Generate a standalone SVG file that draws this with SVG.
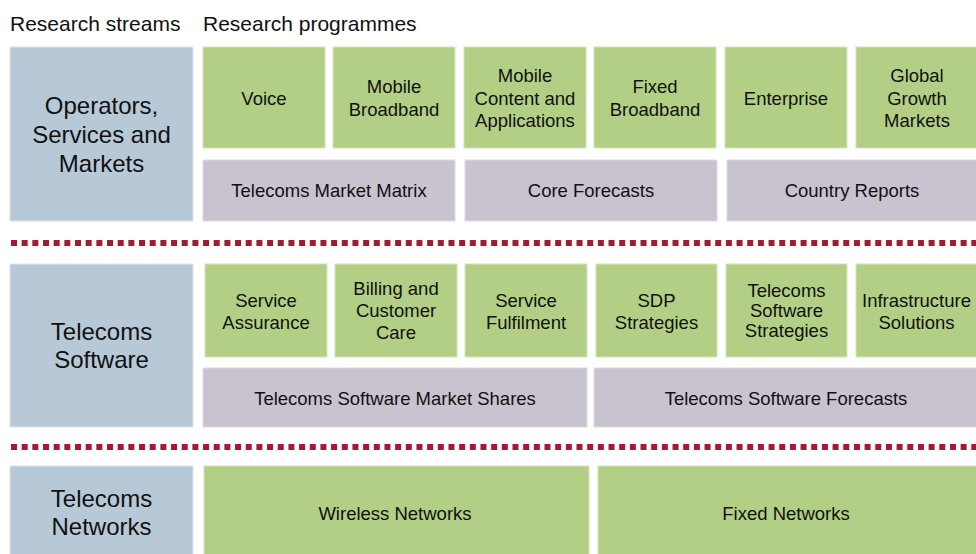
<svg xmlns="http://www.w3.org/2000/svg" width="976" height="554" viewBox="0 0 976 554">
  <style>
    text { font-family: "Liberation Sans", Arial, sans-serif; fill: #111; text-anchor: middle; }
    .hdr { font-size: 21px; text-anchor: start; }
    .stream { fill: #B7C9D7; stroke: #DCE4EB; stroke-width: 1; }
    .prog { fill: #B3CF86; stroke: #D3E3B8; stroke-width: 1; }
    .prod { fill: #C8C3CF; stroke: #DEDAE2; stroke-width: 1; }
    .big { font-size: 24px; }
    .sm { font-size: 18.5px; }
    .sep { stroke: #A51A32; stroke-width: 6; stroke-dasharray: 6 4.67; fill: none; }
  </style>
  <rect width="976" height="554" fill="#ffffff"/>

  <text class="hdr" x="10" y="31">Research streams</text>
  <text class="hdr" x="203" y="31">Research programmes</text>

  <g id="separators">
    <line class="sep" x1="11" y1="243" x2="976" y2="243"/>
    <line class="sep" x1="11" y1="447" x2="976" y2="447"/>
  </g>

  <!-- Stream 1 -->
  <g id="stream-operators">
    <rect class="stream" x="10" y="47" width="183" height="174"/>
    <text class="big" x="101.5" y="114">Operators,</text>
    <text class="big" x="101.5" y="143">Services and</text>
    <text class="big" x="101.5" y="172">Markets</text>
  </g>
  <g id="prog-voice">
    <rect class="prog" x="203" y="47" width="122" height="101"/>
    <text class="sm" x="264" y="104.5">Voice</text>
  </g>
  <g id="prog-mobile-broadband">
    <rect class="prog" x="333" y="47" width="122" height="101"/>
    <text class="sm" x="394" y="93">Mobile</text>
    <text class="sm" x="394" y="116">Broadband</text>
  </g>
  <g id="prog-mobile-content">
    <rect class="prog" x="464" y="47" width="122" height="101"/>
    <text class="sm" x="525" y="82">Mobile</text>
    <text class="sm" x="525" y="104.5">Content and</text>
    <text class="sm" x="525" y="127">Applications</text>
  </g>
  <g id="prog-fixed-broadband">
    <rect class="prog" x="594" y="47" width="122" height="101"/>
    <text class="sm" x="655" y="93">Fixed</text>
    <text class="sm" x="655" y="116">Broadband</text>
  </g>
  <g id="prog-enterprise">
    <rect class="prog" x="725" y="47" width="122" height="101"/>
    <text class="sm" x="786" y="104.5">Enterprise</text>
  </g>
  <g id="prog-global-growth">
    <rect class="prog" x="856" y="47" width="122" height="101"/>
    <text class="sm" x="917" y="82">Global</text>
    <text class="sm" x="917" y="104.5">Growth</text>
    <text class="sm" x="917" y="127">Markets</text>
  </g>
  <g id="prod-market-matrix">
    <rect class="prod" x="203" y="160" width="252" height="61"/>
    <text class="sm" x="329" y="197">Telecoms Market Matrix</text>
  </g>
  <g id="prod-core-forecasts">
    <rect class="prod" x="465" y="160" width="252" height="61"/>
    <text class="sm" x="591" y="197">Core Forecasts</text>
  </g>
  <g id="prod-country-reports">
    <rect class="prod" x="727" y="160" width="251" height="61"/>
    <text class="sm" x="852" y="197">Country Reports</text>
  </g>

  <!-- Stream 2 -->
  <g id="stream-software">
    <rect class="stream" x="10" y="264" width="183" height="163"/>
    <text class="big" x="101.5" y="340">Telecoms</text>
    <text class="big" x="101.5" y="368">Software</text>
  </g>
  <g id="prog-service-assurance">
    <rect class="prog" x="205" y="264" width="122" height="93"/>
    <text class="sm" x="266" y="306.5">Service</text>
    <text class="sm" x="266" y="328.5">Assurance</text>
  </g>
  <g id="prog-billing">
    <rect class="prog" x="335" y="264" width="122" height="93"/>
    <text class="sm" x="396" y="295">Billing and</text>
    <text class="sm" x="396" y="317">Customer</text>
    <text class="sm" x="396" y="339">Care</text>
  </g>
  <g id="prog-service-fulfilment">
    <rect class="prog" x="465" y="264" width="122" height="93"/>
    <text class="sm" x="526" y="306.5">Service</text>
    <text class="sm" x="526" y="328.5">Fulfilment</text>
  </g>
  <g id="prog-sdp">
    <rect class="prog" x="596" y="264" width="121" height="93"/>
    <text class="sm" x="656.5" y="306.5">SDP</text>
    <text class="sm" x="656.5" y="328.5">Strategies</text>
  </g>
  <g id="prog-software-strategies">
    <rect class="prog" x="726" y="264" width="121" height="93"/>
    <text class="sm" x="786.5" y="297">Telecoms</text>
    <text class="sm" x="786.5" y="317">Software</text>
    <text class="sm" x="786.5" y="337">Strategies</text>
  </g>
  <g id="prog-infrastructure">
    <rect class="prog" x="856" y="264" width="122" height="93"/>
    <text class="sm" x="916.5" y="306.5">Infrastructure</text>
    <text class="sm" x="916.5" y="328.5">Solutions</text>
  </g>
  <g id="prod-software-shares">
    <rect class="prod" x="203" y="368" width="384" height="59"/>
    <text class="sm" x="395" y="405">Telecoms Software Market Shares</text>
  </g>
  <g id="prod-software-forecasts">
    <rect class="prod" x="594" y="368" width="384" height="59"/>
    <text class="sm" x="786" y="405">Telecoms Software Forecasts</text>
  </g>

  <!-- Stream 3 -->
  <g id="stream-networks">
    <rect class="stream" x="10" y="466" width="183" height="92"/>
    <text class="big" x="101.5" y="507">Telecoms</text>
    <text class="big" x="101.5" y="535">Networks</text>
  </g>
  <g id="prog-wireless">
    <rect class="prog" x="204" y="466" width="385" height="92"/>
    <text class="sm" x="395" y="520">Wireless Networks</text>
  </g>
  <g id="prog-fixed-networks">
    <rect class="prog" x="598" y="466" width="380" height="92"/>
    <text class="sm" x="786" y="520">Fixed Networks</text>
  </g>
</svg>
